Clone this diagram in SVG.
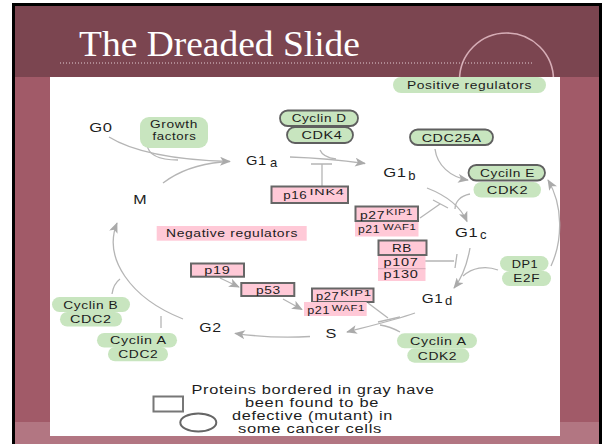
<svg xmlns="http://www.w3.org/2000/svg" width="602" height="444" viewBox="0 0 602 444">
<style>
.t{font-family:"Liberation Sans",Arial,Helvetica,sans-serif;font-size:11.5px;fill:#1c1c1c;letter-spacing:0.5px}
.ph{font-size:13px}
.sp{font-size:9px}
.sm{font-size:10.5px}
.lg{font-size:12.5px}
.c{text-anchor:middle}
.g{fill:#C8E5BF}
.gb{fill:#C8E5BF;stroke:#5f5f5f;stroke-width:1.8}
.p{fill:#FFC9D7}
.pb{fill:#FFC9D7;stroke:#666;stroke-width:2}
.ln{fill:none;stroke:#B5B5B5;stroke-width:1.3}
.ar{marker-end:url(#ah)}
</style>
<defs>
<marker id="ah" viewBox="0 0 12 10" refX="11" refY="5" markerWidth="12" markerHeight="9" markerUnits="userSpaceOnUse" orient="auto">
<path d="M0,0 L12,5 L0,10 L3,5 Z" fill="#AAAAAA"/>
</marker>
</defs>

<!-- slide background -->
<rect x="0" y="0" width="602" height="444" fill="#fff"/>
<rect x="12" y="3" width="590" height="441" fill="#000"/>
<rect x="15" y="6" width="584" height="438" fill="#A15A68"/>
<rect x="15" y="6" width="584" height="71" fill="#7B4550"/>
<rect x="15" y="422" width="584" height="22" fill="#B27682"/>
<circle cx="506.5" cy="80" r="47" fill="none" stroke="#D6ADB6" stroke-width="1.6"/>
<line x1="60" y1="63" x2="533" y2="63" stroke="#E2CDD2" stroke-width="1" stroke-dasharray="1 2"/>
<text x="79" y="55.5" font-family="'Liberation Serif','Times New Roman',serif" font-size="36" fill="#fff" textLength="281" lengthAdjust="spacingAndGlyphs">The Dreaded Slide</text>
<rect x="50" y="77" width="510" height="359" fill="#fff"/>

<!-- connectors -->
<g id="connectors">
<path class="ln ar" d="M109,137 C130,150 170,160 230,161.5"/>
<path class="ln" d="M163,183 C180,170 200,164 222,162"/>
<path class="ln" d="M147,144 C148,156 160,160 178,160"/>
<path class="ln ar" d="M290,157 C320,158 340,160 365,163.5"/>
<path class="ln" d="M320,150 C322,155 328,158 336,159"/>
<path class="ln" d="M322,186 L322,164 M311,164 L332,164"/>
<path class="ln ar" d="M435,149 C437,165 450,177 468,180"/>
<path class="ln ar" d="M427,188 C445,195 460,205 467,221.5"/>
<path class="ln" d="M470,194 C460,196 455,202 455,209"/>
<path class="ln" d="M420,218 L440,204 M433,200 L448,208"/>
<path class="ln ar" d="M470,248 C467,265 462,278 454,288"/>
<path class="ln" d="M425,261 L454,261 M457,254 L455,268"/>
<path class="ln" d="M498,270 C485,265 472,268 463,276"/>
<path class="ln ar" d="M551,266 C563,240 563,205 548,180"/>
<path class="ln ar" d="M415,313 C395,320 370,326 347,332"/>
<path class="ln" d="M368,303 L388,318 M378,322 L400,317"/>
<path class="ln" d="M400,332 C393,328 387,326 380,325"/>
<path class="ln ar" d="M310,336.5 C285,338 260,337 235,333.3"/>
<path class="ln ar" d="M183,319 C130,298 103,258 117,223"/>
<path class="ln" d="M112,294 C113,287 116,282 120,279"/>
<path class="ln" d="M161,328 L161,316"/>
<path class="ln ar" d="M220,278 L239,287"/>
<path class="ln ar" d="M283,299 L302,309.5"/>
</g>

<!-- nodes -->
<g id="positive-regulators"><rect class="g" x="393" y="77" width="153" height="16" rx="8"/><text class="t c" x="469.5" y="88.8" textLength="125" lengthAdjust="spacingAndGlyphs">Positive regulators</text></g>
<g id="g0"><text class="t ph" x="89.3" y="131.7" textLength="23.4" lengthAdjust="spacingAndGlyphs">G0</text></g>
<g id="growth-factors"><rect class="g" x="140" y="117" width="68" height="31" rx="9"/><text class="t sm c" x="174" y="127.5" textLength="48" lengthAdjust="spacingAndGlyphs">Growth</text><text class="t sm c" x="174.5" y="139.5" textLength="44" lengthAdjust="spacingAndGlyphs">factors</text></g>
<g id="cyclin-d"><rect class="gb" x="280" y="110.5" width="78" height="15.5" rx="7.7"/><text class="t c" x="319.2" y="122" textLength="55" lengthAdjust="spacingAndGlyphs">Cyclin D</text></g>
<g id="cdk4"><rect class="gb" x="287" y="127" width="66" height="16" rx="8"/><text class="t c" x="322" y="139" textLength="41" lengthAdjust="spacingAndGlyphs">CDK4</text></g>
<g id="g1a"><text class="t ph" x="246" y="165"><tspan textLength="20.7" lengthAdjust="spacingAndGlyphs">G1</tspan><tspan x="270" y="166.7">a</tspan></text></g>
<g id="p16"><rect class="pb" x="271.5" y="186.5" width="76.5" height="16.5"/><text class="t" x="283.3" y="199"><tspan textLength="24" lengthAdjust="spacingAndGlyphs">p16</tspan><tspan class="sp" x="309.5" y="195" textLength="35" lengthAdjust="spacingAndGlyphs">INK4</tspan></text></g>
<g id="m"><text class="t ph" x="133.3" y="204" textLength="14" lengthAdjust="spacingAndGlyphs">M</text></g>
<g id="negative-regulators"><rect class="p" x="156.7" y="226" width="150" height="14.7"/><text class="t c" x="232" y="237.2" textLength="132" lengthAdjust="spacingAndGlyphs">Negative regulators</text></g>
<g id="g1b"><text class="t ph" x="383.3" y="177.3"><tspan textLength="23.4" lengthAdjust="spacingAndGlyphs">G1</tspan><tspan x="408.3" y="180">b</tspan></text></g>
<g id="cdc25a"><rect class="gb" x="410" y="129.5" width="83" height="15.5" rx="7.7"/><text class="t c" x="451.7" y="141.8" textLength="60" lengthAdjust="spacingAndGlyphs">CDC25A</text></g>
<g id="cyclin-e"><rect class="gb" x="468.5" y="165" width="76.5" height="15.5" rx="7.7"/><text class="t c" x="507.5" y="176.7" textLength="55" lengthAdjust="spacingAndGlyphs">Cyciln E</text></g>
<g id="cdk2-e"><rect class="g" x="473.5" y="182" width="67.5" height="15.5" rx="7.7"/><text class="t c" x="507.5" y="193.8" textLength="41.6" lengthAdjust="spacingAndGlyphs">CDK2</text></g>
<g id="p27-1"><rect class="pb" x="355.5" y="206.5" width="62.5" height="14.5"/><text class="t" x="360" y="218.5"><tspan textLength="25" lengthAdjust="spacingAndGlyphs">p27</tspan><tspan class="sp" x="386" y="214.5" textLength="27" lengthAdjust="spacingAndGlyphs">KIP1</tspan></text></g>
<g id="p21-1"><rect class="p" x="355" y="222" width="63.5" height="14.5"/><text class="t" x="358" y="233"><tspan textLength="22" lengthAdjust="spacingAndGlyphs">p21</tspan><tspan class="sp" x="383" y="229.5" textLength="33.5" lengthAdjust="spacingAndGlyphs">WAF1</tspan></text></g>
<g id="g1c"><text class="t ph" x="455" y="236.7"><tspan textLength="23.3" lengthAdjust="spacingAndGlyphs">G1</tspan><tspan x="480" y="238.7">c</tspan></text></g>
<g id="rb"><rect class="pb" x="378.5" y="240.5" width="48" height="14.5"/><text class="t c" x="402" y="252" textLength="20" lengthAdjust="spacingAndGlyphs">RB</text></g>
<g id="p107-p130"><rect class="p" x="378" y="256" width="47.5" height="25"/><line x1="378" y1="268.7" x2="425.5" y2="268.7" stroke="#D6A8B4" stroke-width="1"/><text class="t sm c" x="401" y="265.5" textLength="35" lengthAdjust="spacingAndGlyphs">p107</text><text class="t sm c" x="401" y="278" textLength="35" lengthAdjust="spacingAndGlyphs">p130</text></g>
<g id="dp1-e2f"><rect class="g" x="500" y="256" width="48.5" height="15" rx="7.5"/><rect class="g" x="502" y="271" width="49" height="15" rx="7.5"/><text class="t c" x="525" y="268.3" textLength="26.6" lengthAdjust="spacingAndGlyphs">DP1</text><text class="t c" x="526.7" y="282.3" textLength="26.7" lengthAdjust="spacingAndGlyphs">E2F</text></g>
<g id="g1d"><text class="t ph" x="421.7" y="303.3"><tspan textLength="21.6" lengthAdjust="spacingAndGlyphs">G1</tspan><tspan x="445" y="305.3">d</tspan></text></g>
<g id="p27-2"><rect class="pb" x="312" y="288.5" width="61.5" height="13.5"/><text class="t" x="316" y="299.8"><tspan textLength="23.3" lengthAdjust="spacingAndGlyphs">p27</tspan><tspan class="sp" x="340.3" y="295.7" textLength="31.4" lengthAdjust="spacingAndGlyphs">KIP1</tspan></text></g>
<g id="p21-2"><rect class="p" x="304" y="302" width="62.7" height="14"/><text class="t" x="307.3" y="314.3"><tspan textLength="22.7" lengthAdjust="spacingAndGlyphs">p21</tspan><tspan class="sp" x="331.7" y="311" textLength="33.3" lengthAdjust="spacingAndGlyphs">WAF1</tspan></text></g>
<g id="s"><text class="t ph" x="325.5" y="338" textLength="11.5" lengthAdjust="spacingAndGlyphs">S</text></g>
<g id="cyclin-a-cdk2"><rect class="g" x="397" y="333.3" width="80" height="15" rx="7.5"/><rect class="g" x="407.3" y="348.3" width="62" height="14.4" rx="7.2"/><text class="t c" x="438.3" y="345.2" textLength="56.7" lengthAdjust="spacingAndGlyphs">Cyclin A</text><text class="t c" x="437.5" y="359.6" textLength="39.4" lengthAdjust="spacingAndGlyphs">CDK2</text></g>
<g id="g2"><text class="t ph" x="199.3" y="331.7" textLength="22.4" lengthAdjust="spacingAndGlyphs">G2</text></g>
<g id="p19"><rect class="pb" x="191" y="263.5" width="53" height="13.2"/><text class="t c" x="217.3" y="274" textLength="26" lengthAdjust="spacingAndGlyphs">p19</text></g>
<g id="p53"><rect class="pb" x="241.3" y="283" width="53" height="13"/><text class="t c" x="268.3" y="293.8" textLength="24.7" lengthAdjust="spacingAndGlyphs">p53</text></g>
<g id="cyclin-b-cdc2"><rect class="g" x="52" y="297" width="78" height="15" rx="7.5"/><rect class="g" x="60" y="312" width="62" height="14.5" rx="7.2"/><text class="t c" x="90.8" y="308.7" textLength="55" lengthAdjust="spacingAndGlyphs">Cyclin B</text><text class="t c" x="90.8" y="323" textLength="41.7" lengthAdjust="spacingAndGlyphs">CDC2</text></g>
<g id="cyclin-a-cdc2"><rect class="g" x="97" y="333" width="80" height="14.5" rx="7.2"/><rect class="g" x="108" y="347" width="60" height="14.3" rx="7.1"/><text class="t c" x="138.3" y="343.8" textLength="56.7" lengthAdjust="spacingAndGlyphs">Cyclin A</text><text class="t c" x="138.3" y="357.8" textLength="40" lengthAdjust="spacingAndGlyphs">CDC2</text></g>
<g id="legend"><rect x="153.5" y="396.5" width="29.5" height="15" fill="#fff" stroke="#777" stroke-width="2"/><ellipse cx="198.3" cy="422.5" rx="18" ry="9" fill="#fff" stroke="#666" stroke-width="2"/>
<text class="t lg c" x="313" y="394" textLength="243" lengthAdjust="spacingAndGlyphs">Proteins bordered in gray have</text>
<text class="t lg c" x="312" y="407" textLength="134" lengthAdjust="spacingAndGlyphs">been found to be</text>
<text class="t lg c" x="312.5" y="420" textLength="161" lengthAdjust="spacingAndGlyphs">defective (mutant) in</text>
<text class="t lg c" x="310" y="433" textLength="144" lengthAdjust="spacingAndGlyphs">some cancer cells</text></g>
</svg>
